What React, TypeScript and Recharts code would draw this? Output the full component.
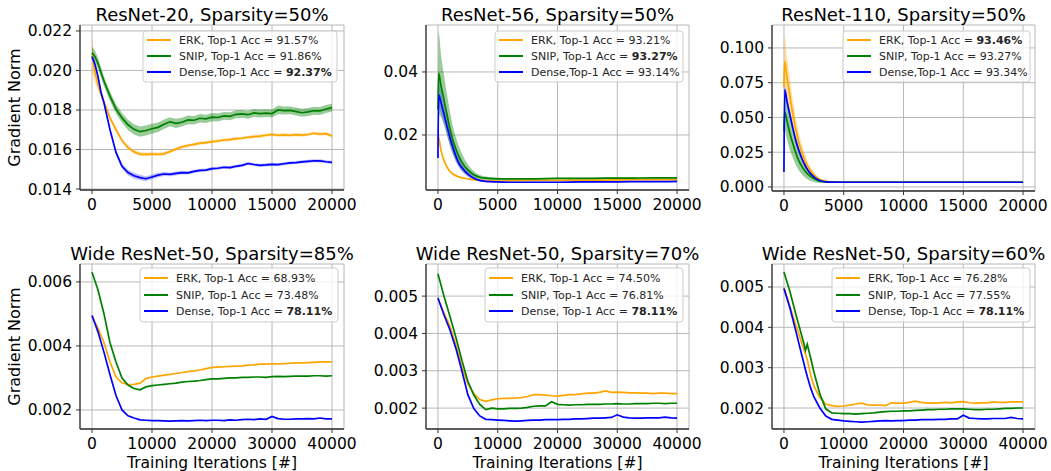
import React from "react";
import { ComposedChart, Line, Area, XAxis, YAxis, CartesianGrid } from "recharts";

const FONT = "'DejaVu Sans', 'Liberation Sans', sans-serif";
const ORANGE = "#FFA500";
const GREEN = "#008000";
const BLUE = "#0000FF";

// ---------- ResNet-20 ----------
const iters20 = [0, 250, 500, 750, 1000, 1500, 2000, 2500, 3000, 3500, 4000, 4500, 5000, 5500, 6000, 6500, 7000, 7500, 8000, 8500, 9000, 9500, 10000, 10500, 11000, 11500, 12000, 12500, 13000, 13500, 14000, 14500, 15000, 15500, 16000, 16500, 17000, 17500, 18000, 18500, 19000, 19500, 20000];
const erk20 = [0.0208, 0.0199, 0.0193, 0.0188, 0.0184, 0.0176, 0.0170, 0.01645, 0.0161, 0.01588, 0.01577, 0.01575, 0.01577, 0.01576, 0.01578, 0.0159, 0.01602, 0.01613, 0.0162, 0.01626, 0.01632, 0.01635, 0.0164, 0.01643, 0.01648, 0.0165, 0.01655, 0.01657, 0.01662, 0.01665, 0.01668, 0.01672, 0.01676, 0.01672, 0.01674, 0.01672, 0.01675, 0.01673, 0.01676, 0.01682, 0.01678, 0.0168, 0.01668];
const snip20 = [0.0209, 0.0207, 0.02036, 0.0199, 0.01945, 0.0187, 0.01805, 0.0176, 0.01725, 0.01702, 0.0169, 0.01696, 0.01705, 0.01712, 0.01728, 0.0174, 0.01732, 0.01738, 0.0175, 0.01748, 0.01758, 0.01755, 0.01764, 0.01762, 0.0177, 0.01768, 0.01778, 0.0178, 0.01776, 0.01785, 0.01782, 0.01784, 0.01782, 0.018, 0.01797, 0.01798, 0.01792, 0.01786, 0.0179, 0.01796, 0.01795, 0.01805, 0.01812];
const dense20 = [0.0207, 0.0203, 0.0197, 0.0189, 0.01835, 0.017, 0.01585, 0.01515, 0.01483, 0.01467, 0.01458, 0.01452, 0.01461, 0.0147, 0.01476, 0.01474, 0.01479, 0.01483, 0.01482, 0.01489, 0.01494, 0.01496, 0.01503, 0.01505, 0.0151, 0.01508, 0.01515, 0.0152, 0.01529, 0.01524, 0.0152, 0.01522, 0.01525, 0.01523, 0.01528, 0.01532, 0.01534, 0.01537, 0.0154, 0.01543, 0.01542, 0.01538, 0.01535];
const erkSpread20 = [0.0009, 0.0005, 0.0003, 0.0002, 0.00015, 0.00012, 0.0001, 0.0001, 0.0001, 0.0001, 0.0001, 0.0001, 0.00009, 0.00009, 0.00009, 0.00009, 0.00008, 0.00008, 0.00008, 0.00008, 0.00008, 0.00008, 0.00008, 0.00008, 0.00008, 0.00008, 0.00008, 0.00008, 0.00008, 0.00008, 0.00008, 0.00008, 0.00008, 0.00008, 0.00008, 0.00008, 0.00008, 0.00008, 0.00008, 0.00008, 0.00008, 0.00008, 0.00008];
const snipSpread20 = [0.0003, 0.0003, 0.00028, 0.00026, 0.00025, 0.00024, 0.00024, 0.00025, 0.00026, 0.00026, 0.00026, 0.00025, 0.00025, 0.00024, 0.00024, 0.00023, 0.00023, 0.00022, 0.00022, 0.00022, 0.00021, 0.00021, 0.00021, 0.0002, 0.0002, 0.0002, 0.0002, 0.0002, 0.0002, 0.0002, 0.0002, 0.0002, 0.0002, 0.00022, 0.0002, 0.0002, 0.0002, 0.0002, 0.0002, 0.0002, 0.0002, 0.0002, 0.0002];
const denseSpread20 = [0.0002, 0.00015, 0.00012, 0.0001, 0.0001, 0.0001, 0.00012, 0.00014, 0.00015, 0.00015, 0.00014, 0.00013, 0.00012, 0.00012, 0.0001, 0.0001, 0.0001, 0.00009, 0.00009, 0.00009, 0.00008, 0.00008, 0.00008, 0.00008, 0.00008, 0.00008, 0.00008, 0.00008, 0.00008, 0.00008, 0.00008, 0.00008, 0.00008, 0.00008, 0.00008, 0.00008, 0.00008, 0.00008, 0.00008, 0.00008, 0.00008, 0.00008, 0.00008];

// ---------- ResNet-56 / ResNet-110 ----------
const itersShort = [0, 60, 250, 500, 750, 1000, 1250, 1500, 1750, 2000, 2500, 3000, 3500, 4000, 5000, 6000, 8000, 10000, 12000, 14000, 16000, 18000, 20000];
const erk56 = [0.0195, 0.0192, 0.0152, 0.012, 0.0099, 0.0085, 0.0076, 0.0071, 0.0067, 0.0064, 0.0061, 0.0058, 0.0056, 0.0055, 0.0054, 0.0055, 0.0056, 0.0056, 0.0057, 0.0057, 0.0058, 0.0058, 0.0059];
const snip56 = [0.028, 0.0396, 0.0357, 0.0312, 0.0265, 0.022, 0.0183, 0.0155, 0.0132, 0.0114, 0.0089, 0.0074, 0.0066, 0.0063, 0.0061, 0.0061, 0.0061, 0.0062, 0.0062, 0.0063, 0.0063, 0.0064, 0.0064];
const dense56 = [0.0127, 0.0327, 0.0304, 0.0267, 0.0229, 0.0192, 0.016, 0.0133, 0.0111, 0.0097, 0.0076, 0.0063, 0.0056, 0.0053, 0.0051, 0.005, 0.005, 0.005, 0.0051, 0.0051, 0.0052, 0.0052, 0.0053];
const erkSpread56 = [0.0005, 0.001, 0.0008, 0.0006, 0.0005, 0.0004, 0.0003, 0.0003, 0.0002, 0.0002, 0.0002, 0.0002, 0.0001, 0.0001, 0.0001, 0.0001, 0.0001, 0.0001, 0.0001, 0.0001, 0.0001, 0.0001, 0.0001];
const snipSpread56 = [0.002, 0.013, 0.01, 0.008, 0.0065, 0.0055, 0.0045, 0.0038, 0.0032, 0.0027, 0.0018, 0.0011, 0.0007, 0.0005, 0.0003, 0.0002, 0.0002, 0.0002, 0.0002, 0.0002, 0.0002, 0.0002, 0.0002];
const denseSpread56 = [0.001, 0.004, 0.0035, 0.003, 0.0027, 0.0024, 0.002, 0.0017, 0.0014, 0.0012, 0.0009, 0.0006, 0.0004, 0.0003, 0.0002, 0.0002, 0.0002, 0.0002, 0.0002, 0.0002, 0.0002, 0.0002, 0.0002];

const erk110 = [0.072, 0.0905, 0.079, 0.065, 0.052, 0.041, 0.032, 0.0248, 0.0192, 0.0148, 0.0088, 0.0054, 0.004, 0.0036, 0.0035, 0.0035, 0.0035, 0.0035, 0.0035, 0.0035, 0.0035, 0.0035, 0.0035];
const snip110 = [0.04, 0.054, 0.0475, 0.0385, 0.031, 0.0243, 0.0188, 0.0148, 0.0117, 0.0092, 0.006, 0.0041, 0.0036, 0.0034, 0.0034, 0.0034, 0.0034, 0.0034, 0.0034, 0.0034, 0.0034, 0.0034, 0.0034];
const dense110 = [0.0108, 0.0702, 0.0618, 0.0518, 0.042, 0.0333, 0.0262, 0.0205, 0.0158, 0.012, 0.0072, 0.0046, 0.0037, 0.0035, 0.0034, 0.0034, 0.0034, 0.0034, 0.0034, 0.0034, 0.0034, 0.0034, 0.0034];
const erkSpread110 = [0.004, 0.018, 0.016, 0.013, 0.011, 0.009, 0.007, 0.0055, 0.0045, 0.0035, 0.002, 0.0012, 0.0006, 0.0003, 0.0002, 0.0002, 0.0002, 0.0002, 0.0002, 0.0002, 0.0002, 0.0002, 0.0002];
const snipSpread110 = [0.004, 0.013, 0.013, 0.012, 0.01, 0.0085, 0.007, 0.0058, 0.0047, 0.0038, 0.0024, 0.0013, 0.0007, 0.0004, 0.0002, 0.0002, 0.0002, 0.0002, 0.0002, 0.0002, 0.0002, 0.0002, 0.0002];
const denseSpread110 = [0.001, 0.003, 0.003, 0.0028, 0.0025, 0.0022, 0.0019, 0.0016, 0.0013, 0.001, 0.0007, 0.0004, 0.0002, 0.0002, 0.0002, 0.0002, 0.0002, 0.0002, 0.0002, 0.0002, 0.0002, 0.0002, 0.0002];

// ---------- Wide ResNet-50 ----------
const itersWide = [0, 1000, 2000, 3000, 4000, 5000, 6000, 7000, 8000, 9000, 10000, 11000, 12000, 13000, 14000, 15000, 16000, 17000, 18000, 19000, 20000, 21000, 22000, 23000, 24000, 25000, 26000, 27000, 28000, 29000, 30000, 31000, 32000, 33000, 34000, 35000, 36000, 37000, 38000, 39000, 40000];
const erk85 = [0.00493, 0.00455, 0.0041, 0.0035, 0.00303, 0.00285, 0.00279, 0.0028, 0.00284, 0.00298, 0.00303, 0.00306, 0.00309, 0.00311, 0.00314, 0.00317, 0.0032, 0.00322, 0.00325, 0.00329, 0.00333, 0.00334, 0.00335, 0.00336, 0.00337, 0.00338, 0.0034, 0.00341, 0.00343, 0.00343, 0.00344, 0.00344, 0.00345, 0.00346, 0.00347, 0.00347, 0.00348, 0.00349, 0.0035, 0.0035, 0.0035];
const snip85 = [0.0063, 0.00575, 0.005, 0.0041, 0.0035, 0.003, 0.00278, 0.00267, 0.00263, 0.00272, 0.00276, 0.00278, 0.0028, 0.00282, 0.00284, 0.00287, 0.00289, 0.0029, 0.00292, 0.00295, 0.00297, 0.00297, 0.00299, 0.003, 0.003, 0.00302, 0.00302, 0.00303, 0.00303, 0.00302, 0.00304, 0.00305, 0.00304, 0.00305, 0.00306, 0.00306, 0.00306, 0.00307, 0.00307, 0.00306, 0.00307];
const dense85 = [0.00495, 0.00444, 0.0038, 0.0031, 0.00245, 0.002, 0.00182, 0.00175, 0.00169, 0.00168, 0.00167, 0.00167, 0.00166, 0.00165, 0.00166, 0.00167, 0.00166, 0.00167, 0.00168, 0.00167, 0.00168, 0.00168, 0.00167, 0.00169, 0.00168, 0.0017, 0.00171, 0.0017, 0.00172, 0.00171, 0.0018, 0.00173, 0.00171, 0.00171, 0.00172, 0.00172, 0.00173, 0.00172, 0.00175, 0.00172, 0.00172];

const erk70 = [0.00493, 0.00455, 0.0042, 0.0037, 0.0031, 0.00265, 0.00239, 0.00223, 0.00218, 0.00222, 0.00225, 0.00226, 0.00226, 0.00227, 0.00228, 0.00231, 0.00236, 0.00236, 0.00235, 0.00233, 0.00232, 0.00234, 0.00236, 0.00236, 0.00238, 0.0024, 0.0024, 0.00242, 0.00246, 0.00242, 0.00243, 0.00242, 0.00241, 0.00241, 0.0024, 0.0024, 0.00239, 0.0024, 0.0024, 0.00239, 0.00239];
const snip70 = [0.0056, 0.005, 0.00446, 0.0039, 0.00328, 0.00272, 0.00235, 0.0021, 0.00196, 0.002, 0.00198, 0.00198, 0.00199, 0.00199, 0.002, 0.00202, 0.00205, 0.00206, 0.00206, 0.00217, 0.0021, 0.00209, 0.00208, 0.00209, 0.00209, 0.0021, 0.0021, 0.0021, 0.00211, 0.00211, 0.00212, 0.00211, 0.00211, 0.00212, 0.00212, 0.00212, 0.00213, 0.00213, 0.00212, 0.00213, 0.00213];
const dense70 = [0.00495, 0.0045, 0.0041, 0.0036, 0.003, 0.00236, 0.00199, 0.00179, 0.0017, 0.00169, 0.00168, 0.00167, 0.00166, 0.00165, 0.00166, 0.00167, 0.00168, 0.00168, 0.00169, 0.00169, 0.00169, 0.0017, 0.0017, 0.00171, 0.00171, 0.00172, 0.00173, 0.00173, 0.00174, 0.00175, 0.00182, 0.00176, 0.00174, 0.00173, 0.00173, 0.00174, 0.00174, 0.00174, 0.00176, 0.00174, 0.00173];

const iters60 = [0, 1000, 2000, 3000, 3300, 3600, 3900, 4500, 5000, 6000, 7000, 8000, 9000, 10000, 11000, 12000, 13000, 14000, 15000, 16000, 17000, 18000, 19000, 20000, 21000, 22000, 23000, 24000, 25000, 26000, 27000, 28000, 29000, 30000, 31000, 32000, 33000, 34000, 35000, 36000, 37000, 38000, 39000, 40000];
const erk60 = [0.00498, 0.00452, 0.00405, 0.0036, 0.00347, 0.00334, 0.0032, 0.0028, 0.00255, 0.00226, 0.0021, 0.00206, 0.00204, 0.00205, 0.00207, 0.0021, 0.00212, 0.00208, 0.00207, 0.00207, 0.00206, 0.00213, 0.00212, 0.00212, 0.00214, 0.00217, 0.00214, 0.00212, 0.00212, 0.00213, 0.00214, 0.00213, 0.00215, 0.00216, 0.00213, 0.00212, 0.00213, 0.00213, 0.00215, 0.00214, 0.00214, 0.00215, 0.00215, 0.00215];
const snip60 = [0.00537, 0.00489, 0.00432, 0.00378, 0.00362, 0.00343, 0.00358, 0.00322, 0.0029, 0.00235, 0.00198, 0.00188, 0.00187, 0.00186, 0.00186, 0.00185, 0.00186, 0.00187, 0.00188, 0.0019, 0.00191, 0.00192, 0.00192, 0.00193, 0.00193, 0.00194, 0.00195, 0.00196, 0.00196, 0.00197, 0.00197, 0.00198, 0.00198, 0.00198, 0.00197, 0.00196, 0.00196, 0.00197, 0.00197, 0.00198, 0.00199, 0.00199, 0.002, 0.002];
const dense60 = [0.00496, 0.00448, 0.0039, 0.0033, 0.00313, 0.00295, 0.00278, 0.00248, 0.00228, 0.002, 0.0018, 0.00172, 0.0017, 0.00168, 0.00167, 0.00166, 0.00165, 0.00166, 0.00167, 0.00168, 0.00169, 0.00168, 0.00169, 0.00169, 0.0017, 0.0017, 0.00171, 0.00171, 0.00171, 0.00172, 0.00172, 0.00173, 0.00173, 0.00182, 0.00175, 0.00174, 0.00173, 0.00173, 0.00174, 0.00174, 0.00174, 0.00177, 0.00174, 0.00173];

// ---------- ticks & labels ----------
const xTicks20k = [0, 5000, 10000, 15000, 20000];
const xTicks40k = [0, 10000, 20000, 30000, 40000];
const yTicks20 = [0.014, 0.016, 0.018, 0.02, 0.022];
const yTicks56 = [0.02, 0.04];
const yTicks110 = [0, 0.025, 0.05, 0.075, 0.1];
const yTicks85 = [0.002, 0.004, 0.006];
const yTicks70 = [0.002, 0.003, 0.004, 0.005];
const yTicks60 = [0.002, 0.003, 0.004, 0.005];

const namesCifar = ["ERK, Top-1 Acc = ", "SNIP, Top-1 Acc = ", "Dense,Top-1 Acc = "];
const namesWide = ["ERK, Top-1 Acc = ", "SNIP, Top-1 Acc = ", "Dense, Top-1 Acc = "];
const acc20 = ["91.57%", "91.86%", "92.37%"];
const acc56 = ["93.21%", "93.27%", "93.14%"];
const acc110 = ["93.46%", "93.27%", "93.34%"];
const acc85 = ["68.93%", "73.48%", "78.11%"];
const acc70 = ["74.50%", "76.81%", "78.11%"];
const acc60 = ["76.28%", "77.55%", "78.11%"];

type Curve = "linear" | "monotone";
interface PanelSpec {
  key: string;
  title: string;
  iters: number[];
  erk: number[];
  snip: number[];
  dense: number[];
  erkSpread?: number[];
  snipSpread?: number[];
  denseSpread?: number[];
  x0: number; x1: number; y0: number; y1: number;
  xDomain: [number, number];
  xTicks: number[];
  yDomain: [number, number];
  yTicks: number[];
  yDigits: number;
  curve: Curve;
  names: string[];
  acc: string[];
  bold: number;
  leg: { x: number; y: number; w: number; h: number; rows: number[] };
}

const panels: PanelSpec[] = [
  {
    key: "p20", title: "ResNet-20, Sparsity=50%", iters: iters20, erk: erk20, snip: snip20, dense: dense20,
    erkSpread: erkSpread20, snipSpread: snipSpread20, denseSpread: denseSpread20,
    x0: 80, x1: 344, y0: 25, y1: 190, xDomain: [-1000, 21000], xTicks: xTicks20k,
    yDomain: [0.01395, 0.0223], yTicks: yTicks20, yDigits: 3, curve: "linear",
    names: namesCifar, acc: acc20, bold: 2, leg: { x: 143, y: 31, w: 194, h: 51, rows: [9, 25, 41] },
  },
  {
    key: "p56", title: "ResNet-56, Sparsity=50%", iters: itersShort, erk: erk56, snip: snip56, dense: dense56,
    erkSpread: erkSpread56, snipSpread: snipSpread56, denseSpread: denseSpread56,
    x0: 426, x1: 689, y0: 25, y1: 190, xDomain: [-1000, 21000], xTicks: xTicks20k,
    yDomain: [0.00254, 0.0549], yTicks: yTicks56, yDigits: 2, curve: "monotone",
    names: namesCifar, acc: acc56, bold: 1, leg: { x: 495, y: 31, w: 188, h: 51, rows: [9, 25, 41] },
  },
  {
    key: "p110", title: "ResNet-110, Sparsity=50%", iters: itersShort, erk: erk110, snip: snip110, dense: dense110,
    erkSpread: erkSpread110, snipSpread: snipSpread110, denseSpread: denseSpread110,
    x0: 772, x1: 1035, y0: 25, y1: 191, xDomain: [-1000, 21000], xTicks: xTicks20k,
    yDomain: [-0.0029, 0.1165], yTicks: yTicks110, yDigits: 3, curve: "monotone",
    names: namesCifar, acc: acc110, bold: 0, leg: { x: 843, y: 31, w: 187, h: 51, rows: [9, 25, 41] },
  },
  {
    key: "p85", title: "Wide ResNet-50, Sparsity=85%", iters: itersWide, erk: erk85, snip: snip85, dense: dense85,
    x0: 80, x1: 344, y0: 264, y1: 429, xDomain: [-2000, 42000], xTicks: xTicks40k,
    yDomain: [0.001406, 0.00656], yTicks: yTicks85, yDigits: 3, curve: "linear",
    names: namesWide, acc: acc85, bold: 2, leg: { x: 140, y: 268, w: 198, h: 54, rows: [10, 27, 43] },
  },
  {
    key: "p70", title: "Wide ResNet-50, Sparsity=70%", iters: itersWide, erk: erk70, snip: snip70, dense: dense70,
    x0: 426, x1: 689, y0: 264, y1: 429, xDomain: [-2000, 42000], xTicks: xTicks40k,
    yDomain: [0.00144, 0.00586], yTicks: yTicks70, yDigits: 3, curve: "linear",
    names: namesWide, acc: acc70, bold: 2, leg: { x: 485, y: 268, w: 198, h: 54, rows: [10, 27, 43] },
  },
  {
    key: "p60", title: "Wide ResNet-50, Sparsity=60%", iters: iters60, erk: erk60, snip: snip60, dense: dense60,
    x0: 772, x1: 1035, y0: 264, y1: 429, xDomain: [-2000, 42000], xTicks: xTicks40k,
    yDomain: [0.00148, 0.00557], yTicks: yTicks60, yDigits: 3, curve: "linear",
    names: namesWide, acc: acc60, bold: 2, leg: { x: 832, y: 268, w: 198, h: 54, rows: [10, 27, 43] },
  },
];

const COLORS = [ORANGE, GREEN, BLUE];

function Panel({ s }: { s: PanelSpec }) {
  const ML = 70, MR = 30, MT = 25, MB = 45;
  const W = s.x1 - s.x0 + ML + MR;
  const H = s.y1 - s.y0 + MT + MB;
  const rows = s.iters.map((x, i) => {
    const r: Record<string, any> = { x, erk: s.erk[i], snip: s.snip[i], dense: s.dense[i] };
    if (s.erkSpread) r.erkBand = [s.erk[i] - s.erkSpread[i], s.erk[i] + s.erkSpread[i]];
    if (s.snipSpread) r.snipBand = [s.snip[i] - s.snipSpread[i], s.snip[i] + s.snipSpread[i]];
    if (s.denseSpread) r.denseBand = [s.dense[i] - s.denseSpread[i], s.dense[i] + s.denseSpread[i]];
    return r;
  });
  const tickStyle = { fill: "#000", fontSize: 15.5, fontFamily: FONT };
  const hasBands = !!s.erkSpread;
  return (
    <div style={{ position: "absolute", left: s.x0 - ML, top: s.y0 - MT, width: W, height: H }}>
      <ComposedChart width={W} height={H} data={rows} margin={{ top: MT, right: MR, left: 10, bottom: 15 }}>
        <CartesianGrid stroke="#b0b0b0" strokeWidth={0.9} />
        <XAxis
          dataKey="x" type="number" domain={s.xDomain} ticks={s.xTicks} allowDataOverflow interval={0}
          height={30} tickSize={4} tickMargin={5}
          axisLine={{ stroke: "#333", strokeWidth: 1.3 }} tickLine={{ stroke: "#333" }} tick={tickStyle}
          tickFormatter={(v: number) => String(v)}
        />
        <YAxis
          type="number" domain={s.yDomain} ticks={s.yTicks} allowDataOverflow interval={0}
          width={60} tickSize={4} tickMargin={4}
          axisLine={{ stroke: "#333", strokeWidth: 1.3 }} tickLine={{ stroke: "#333" }} tick={tickStyle}
          tickFormatter={(v: number) => v.toFixed(s.yDigits)}
        />
        {hasBands && (
          <Area dataKey="erkBand" type={s.curve} stroke="none" fill={ORANGE} fillOpacity={0.35} isAnimationActive={false} />
        )}
        <Line dataKey="erk" type={s.curve} stroke={ORANGE} strokeWidth={1.7} dot={false} activeDot={false} isAnimationActive={false} />
        {hasBands && (
          <Area dataKey="snipBand" type={s.curve} stroke="none" fill={GREEN} fillOpacity={0.4} isAnimationActive={false} />
        )}
        <Line dataKey="snip" type={s.curve} stroke={GREEN} strokeWidth={1.7} dot={false} activeDot={false} isAnimationActive={false} />
        {hasBands && (
          <Area dataKey="denseBand" type={s.curve} stroke="none" fill={BLUE} fillOpacity={0.25} isAnimationActive={false} />
        )}
        <Line dataKey="dense" type={s.curve} stroke={BLUE} strokeWidth={1.7} dot={false} activeDot={false} isAnimationActive={false} />
      </ComposedChart>
    </div>
  );
}

function Overlay() {
  return (
    <svg width={1051} height={471} style={{ position: "absolute", left: 0, top: 0, pointerEvents: "none" }}>
      {panels.map((s) => (
        <g key={s.key}>
          <text x={(s.x0 + s.x1) / 2} y={s.y0 - 4.5} textAnchor="middle" fontSize={18} fontFamily={FONT} fill="#000">
            {s.title}
          </text>
          <rect x={s.leg.x} y={s.leg.y} width={s.leg.w} height={s.leg.h} rx={3} ry={3}
            fill="#fff" fillOpacity={0.8} stroke="#cccccc" strokeWidth={1} />
          {s.names.map((n, i) => {
            const cy = s.leg.y + s.leg.rows[i];
            return (
              <g key={i}>
                <line x1={s.leg.x + 4} x2={s.leg.x + 28} y1={cy} y2={cy} stroke={COLORS[i]} strokeWidth={2} />
                <text x={s.leg.x + 36} y={cy + 4} fontSize={11} fontFamily={FONT} fill="#262626">
                  {n}
                  <tspan fontWeight={i === s.bold ? "bold" : "normal"}>{s.acc[i]}</tspan>
                </text>
              </g>
            );
          })}
        </g>
      ))}
      <text x={19.5} y={107.5} transform="rotate(-90 19.5 107.5)" textAnchor="middle" fontSize={16} fontFamily={FONT} fill="#000">
        Gradient Norm
      </text>
      <text x={19.5} y={346.5} transform="rotate(-90 19.5 346.5)" textAnchor="middle" fontSize={16} fontFamily={FONT} fill="#000">
        Gradient Norm
      </text>
      {panels.slice(3).map((s) => (
        <text key={s.key + "xl"} x={(s.x0 + s.x1) / 2} y={467.5} textAnchor="middle" fontSize={15.5} fontFamily={FONT} fill="#000">
          Training Iterations [#]
        </text>
      ))}
    </svg>
  );
}

export default function App() {
  return (
    <div style={{ position: "fixed", left: 0, top: 0, width: 1051, height: 471, background: "#fff", overflow: "hidden" }}>
      {panels.map((s) => (
        <Panel key={s.key} s={s} />
      ))}
      <Overlay />
    </div>
  );
}
